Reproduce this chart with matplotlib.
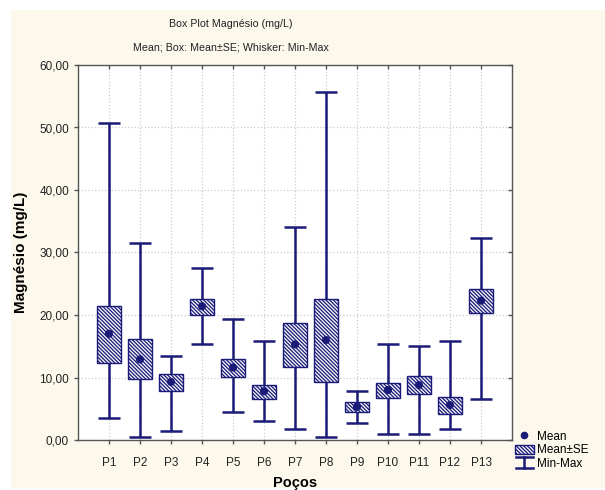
import matplotlib
matplotlib.use("Agg")
import matplotlib.pyplot as plt
from matplotlib.patches import Rectangle, Patch
from matplotlib.lines import Line2D
from matplotlib.legend_handler import HandlerBase
from matplotlib.ticker import FuncFormatter, FixedLocator

plt.rcParams['font.family'] = ['Liberation Sans', 'DejaVu Sans']
plt.rcParams['hatch.linewidth'] = 0.9

categories = ['P1', 'P2', 'P3', 'P4', 'P5', 'P6', 'P7', 'P8', 'P9', 'P10', 'P11', 'P12', 'P13']
means   = [17.0, 12.9, 9.3, 21.4, 11.6, 7.8, 15.3, 16.0, 5.3, 8.0, 8.8, 5.6, 22.3]
se_low  = [12.3, 9.7, 7.9, 20.05, 10.1, 6.5, 11.7, 9.3, 4.5, 6.8, 7.3, 4.1, 20.3]
se_high = [21.5, 16.1, 10.6, 22.6, 13.0, 8.8, 18.7, 22.6, 6.1, 9.2, 10.3, 6.9, 24.2]
mins    = [3.5, 0.5, 1.4, 15.4, 4.5, 3.1, 1.8, 0.5, 2.7, 1.0, 1.0, 1.8, 6.6]
maxs    = [50.8, 31.5, 13.5, 27.6, 19.4, 15.8, 34.1, 55.6, 7.9, 15.4, 15.0, 15.8, 32.3]
y_ticks = [0, 10, 20, 30, 40, 50, 60]

navy = '#1a1a78'
cream = '#fdf8ec'
hatch = '\\' * 9

fig = plt.figure(figsize=(6.05, 4.9), dpi=100)
fig.patch.set_facecolor('white')
fig.patches.append(Rectangle((11/605, 2/490), 594/605, 478/490, transform=fig.transFigure,
                             facecolor=cream, edgecolor='none', zorder=-10))

ax = fig.add_axes([78/605, 1 - 440/490, 434/605, 375/490])
ax.set_facecolor('white')

positions = list(range(1, len(categories) + 1))
box_w = 0.8
cap_w = 0.72
for x, m, lo, hi, mn, mx in zip(positions, means, se_low, se_high, mins, maxs):
    ax.vlines(x, mn, lo, color=navy, lw=1.8, zorder=3)
    ax.vlines(x, hi, mx, color=navy, lw=1.8, zorder=3)
    ax.hlines([mn, mx], x - cap_w / 2, x + cap_w / 2, color=navy, lw=1.8, zorder=3)
    ax.add_patch(Rectangle((x - box_w / 2, lo), box_w, hi - lo, facecolor='#f4f4f8',
                           edgecolor=navy, hatch=hatch, lw=1.0, zorder=4))
ax.scatter(positions, means, s=34, color=navy, edgecolors='none', zorder=5)

ax.set_xlim(0, 14)
ax.set_ylim(0, 60)
ax.xaxis.set_major_locator(FixedLocator(positions))
ax.set_xticklabels(categories)
ax.yaxis.set_major_locator(FixedLocator(y_ticks))
ax.yaxis.set_major_formatter(FuncFormatter(lambda v, p: f'{v:.2f}'.replace('.', ',')))

ax.grid(True, color='#cccccc', ls=':', lw=0.9, zorder=0)
ax.set_axisbelow(True)
for s in ax.spines.values():
    s.set_color('#555555')
    s.set_linewidth(1.0)
ax.tick_params(axis='both', labelsize=8.5, colors='#555555', labelcolor='#222222', length=3, width=1)
ax.tick_params(axis='x', direction='out', top=True, pad=9)
ax.tick_params(axis='y', direction='out', right=True)
for t in ax.xaxis.get_major_ticks():
    t.tick2line.set_marker(3)
for t in ax.yaxis.get_major_ticks():
    t.tick2line.set_marker(0)

ax.set_xlabel('Poços', fontsize=10.5, fontweight='bold', labelpad=5)
ax.set_ylabel('Magnésio (mg/L)', fontsize=11, fontweight='bold', labelpad=8)

fig.text(231/605, 1 - 24/490, 'Box Plot Magnésio (mg/L)', ha='center', va='center', fontsize=7.7, color='#222222')
fig.text(231/605, 1 - 48/490, 'Mean; Box: Mean±SE; Whisker: Min-Max', ha='center', va='center', fontsize=7.7, color='#222222')


class WhiskerHandler(HandlerBase):
    def create_artists(self, legend, orig_handle, xdescent, ydescent, width, height, fontsize, trans):
        cx = width / 2 - xdescent
        y0 = -ydescent
        y1 = y0 + height * 1.1
        v = Line2D([cx, cx], [y0, y1], color=navy, lw=1.8, transform=trans)
        b = Line2D([cx - width * 0.45, cx + width * 0.45], [y0, y0], color=navy, lw=1.8, transform=trans)
        t = Line2D([cx - width * 0.45, cx + width * 0.45], [y1, y1], color=navy, lw=1.8, transform=trans)
        return [v, b, t]


whisker_handle = Line2D([], [], color=navy)
handles = [
    Line2D([], [], marker='o', ls='none', color=navy, markersize=4.5),
    Patch(facecolor='#f4f4f8', edgecolor=navy, hatch=hatch),
    whisker_handle,
]
leg = fig.legend(handles, ['Mean', 'Mean±SE', 'Min-Max'], loc='upper left',
                 bbox_to_anchor=(510/605, 1 - 426/490), frameon=False, fontsize=8.5,
                 handlelength=1.6, handleheight=0.9, handletextpad=0.3, labelspacing=0.15,
                 borderaxespad=0, handler_map={whisker_handle: WhiskerHandler()})

fig.savefig('out.png', dpi=100, facecolor=fig.get_facecolor())
